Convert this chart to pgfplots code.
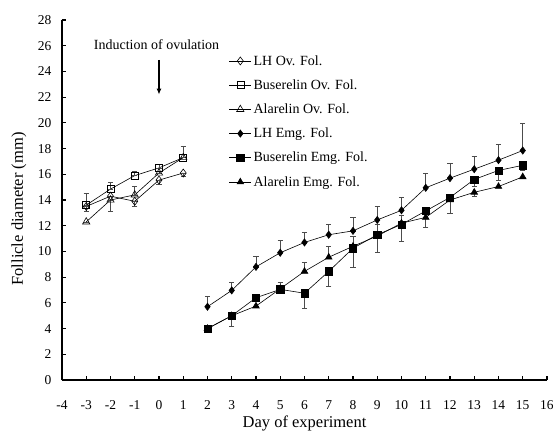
\documentclass[border=0pt]{standalone}
\usepackage{fontspec}
\setmainfont{Liberation Serif}
\usepackage{pgfplots}
\pgfplotsset{compat=1.18}
\usepackage{pgfplotstable}
\usetikzlibrary{arrows.meta}

\pgfplotstableread{
x y ep em
-3 13.5 0 0.4
-2 14.3 0 0
-1 13.9 0 0.4
0 15.55 0 0.35
1 16.1 0 0.25
}\lhov
\pgfplotstableread{
x y ep em
-3 13.6 0.9 0
-2 14.85 0.5 0
-1 15.9 0.3 0
0 16.5 0.3 0
1 17.3 0.9 0
}\busov
\pgfplotstableread{
x y ep em
-3 12.3 0 0
-2 14.0 0 0.9
-1 14.4 0.7 0
0 16.1 0 0
1 17.3 0 0
}\alaov
\pgfplotstableread{
x y ep em
2 5.7 0.8 0
3 6.97 0.6 0
4 8.8 0.85 0
5 9.9 1.0 0
6 10.7 0.8 0
7 11.3 0.8 0
8 11.6 1.05 0
9 12.45 1.05 0
10 13.2 1.0 0
11 14.95 1.1 0
12 15.7 1.15 0
13 16.4 1.0 0
14 17.1 1.2 0
15 17.85 2.15 0
}\lhemg
\pgfplotstableread{
x y ep em
2 4.0 0 0
3 5.0 0 0.8
4 6.4 0 0
5 7.05 0 0
6 6.75 0 1.2
7 8.45 0 1.2
8 10.25 0 1.5
9 11.3 0 1.35
10 12.1 0 1.3
11 13.15 0 0
12 14.2 0 1.2
13 15.6 0 0.5
14 16.3 0 0.8
15 16.7 0 0.4
}\busemg
\pgfplotstableread{
x y ep em
2 4.0 0 0
3 5.0 0 0
4 5.75 0 0
5 7.1 0.5 0
6 8.45 0.7 0
7 9.55 0.85 0
8 10.4 0.75 0
9 11.2 0.9 0
10 12.2 0.6 0
11 12.65 0 0.8
12 14.0 0 0
13 14.6 0 0.3
14 15.05 0 0
15 15.8 0 0
}\alaemg

\pgfplotsset{
  eb/.style={black, line width=0.6pt,
    error bars/y dir=both, error bars/y explicit,
    error bars/error bar style={black!70, line width=0.7pt},
    error bars/error mark options={rotate=90, mark size=2.6pt, black!70, line width=0.7pt}},
}

\begin{document}
\begin{tikzpicture}
\begin{axis}[
  scale only axis, width=485pt, height=360pt,
  xmin=-4, xmax=16, ymin=0, ymax=28,
  axis x line*=bottom, axis y line*=left,
  axis line style={line width=2pt},
  xtick={-4,-3,...,16}, ytick={0,2,...,28},
  tick style={line width=1.2pt, black}, major tick length=4pt, tick align=inside,
  /pgf/number format/assume math mode=true,
  tick label style={font=\fontsize{13.5}{15}\selectfont},
  xticklabel style={yshift=-17pt},
  yticklabel style={xshift=-7pt},
  xlabel={Day of experiment}, ylabel={Follicle diameter (mm)},
  label style={font=\fontsize{16.5}{18}\selectfont},
  xlabel style={at={(axis description cs:0.5,-0.122)}, anchor=center},
  ylabel style={at={(axis description cs:-0.0887,0.475)}, anchor=center},
  legend style={at={(0.344,0.908)}, anchor=north west, draw=none, fill=none,
    font=\fontsize{14}{16}\selectfont, row sep=9pt, inner sep=0pt},
  legend cell align=left,
  legend image code/.code={\draw[mark repeat=2,mark phase=2] plot coordinates {(0pt,0pt)(11pt,0pt)(22pt,0pt)};},
  clip=false,
]
\addplot[eb, mark=diamond, mark size=4pt, mark options={fill=white, solid, line width=0.6pt}]
  table[x=x, y=y, y error plus=ep, y error minus=em] {\lhov};
\addlegendentry{LH Ov. Fol.}
\addplot[eb, mark=square, mark size=3.5pt, mark options={fill=white, solid, line width=0.6pt}]
  table[x=x, y=y, y error plus=ep, y error minus=em] {\busov};
\addlegendentry{Buserelin Ov. Fol.}
\addplot[eb, mark=triangle, mark size=4.2pt, mark options={fill=white, solid, line width=0.6pt}]
  table[x=x, y=y, y error plus=ep, y error minus=em] {\alaov};
\addlegendentry{Alarelin Ov. Fol.}
\addplot[eb, mark=diamond*, mark size=3.6pt, mark options={fill=black, solid}]
  table[x=x, y=y, y error plus=ep, y error minus=em] {\lhemg};
\addlegendentry{LH Emg. Fol.}
\addplot[eb, mark=square*, mark size=3.6pt, mark options={fill=black, solid}]
  table[x=x, y=y, y error plus=ep, y error minus=em] {\busemg};
\addlegendentry{Buserelin Emg. Fol.}
\addplot[eb, mark=triangle*, mark size=3.8pt, mark options={fill=black, solid}]
  table[x=x, y=y, y error plus=ep, y error minus=em] {\alaemg};
\addlegendentry{Alarelin Emg. Fol.}
\draw[-{Latex[length=6pt,width=5pt]}, line width=1.2pt] (axis cs:0,24.9) -- (axis cs:0,22.2);
\node[font=\fontsize{14}{16}\selectfont] at (axis cs:-0.1,26.1) {Induction of ovulation};
\coordinate (bl) at (rel axis cs:-0.1278,-0.1556);
\coordinate (tr) at (rel axis cs:1.0124,1.0556);
\end{axis}
\pgfresetboundingbox
\path[use as bounding box] (bl) rectangle (tr);
\end{tikzpicture}
\end{document}
